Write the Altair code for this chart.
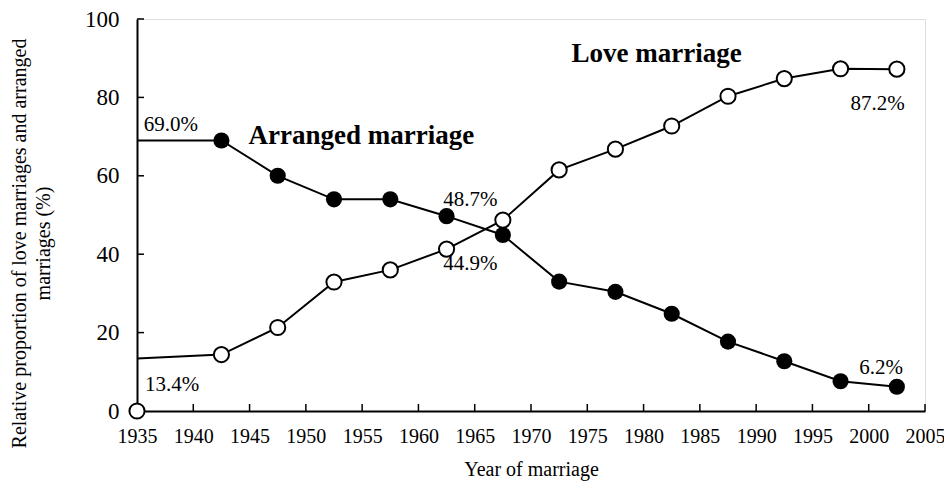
import altair as alt
import pandas as pd

years = [1935, 1942.5, 1947.5, 1952.5, 1957.5, 1962.5, 1967.5, 1972.5, 1977.5,
         1982.5, 1987.5, 1992.5, 1997.5, 2002.5]
arranged = [69.0, 69.0, 60.0, 54.0, 54.0, 49.7, 44.9, 33.0, 30.4, 24.8, 17.7, 12.7, 7.6, 6.2]
love = [13.4, 14.4, 21.3, 32.9, 36.0, 41.3, 48.7, 61.5, 66.8, 72.7, 80.3, 84.8, 87.3, 87.2]
stray_year = [1935]
stray_value = [0.0]

x_ticks = list(range(1935, 2006, 5))
y_ticks = [0, 20, 40, 60, 80, 100]

ann_text = ["69.0%", "Arranged marriage", "Love marriage", "48.7%", "44.9%", "13.4%", "87.2%", "6.2%"]
ann_x = [1935.6, 1944.9, 1973.6, 1962.2, 1962.2, 1935.7, 2000.8, 2001.1]
ann_y = [72.9, 70.2, 91.0, 53.7, 37.6, 6.6, 78.4, 10.9]
ann_bold = [False, True, True, False, False, False, False, False]
ann_align = ["left", "left", "left", "left", "left", "left", "center", "center"]

FONT = "Liberation Serif"

rows = []
for yr, a, l in zip(years, arranged, love):
    rows.append({"year": yr, "value": a, "series": "Arranged"})
    rows.append({"year": yr, "value": l, "series": "Love"})
df = pd.DataFrame(rows)
pts = df[df["year"] > 1935]
stray = pd.DataFrame({"year": stray_year, "value": stray_value})
ann = pd.DataFrame({"text": ann_text, "x": ann_x, "y": ann_y, "bold": ann_bold, "align": ann_align})

xs = alt.Scale(domain=[1935, 2005], nice=False, zero=False)
ys = alt.Scale(domain=[0, 100], nice=False)

X = alt.X("year:Q", scale=xs, axis=alt.Axis(
    values=x_ticks, ticks=False, grid=False, labelPadding=15, labelFontSize=20,
    labelOverlap=False, labelFlush=False, labelFont=FONT, labelColor="black",
    domainColor="black", domainWidth=2, title="Year of marriage", titleFont=FONT,
    titleFontSize=20, titleFontWeight="normal", titleColor="black", titlePadding=13,
    format="d"))
Y = alt.Y("value:Q", scale=ys, axis=alt.Axis(
    values=y_ticks, ticks=False, grid=False, labelPadding=18, labelFontSize=23,
    labelFlush=False, labelFont=FONT, labelColor="black", domainColor="black",
    domainWidth=2,
    title=["Relative proportion of love marriages and arranged", "marriages (%)"],
    titleFont=FONT, titleFontSize=20, titleFontWeight="normal", titleColor="black",
    titleX=-118, titleY=224, titleAngle=270, titleAlign="center", titleBaseline="middle",
    titleLineHeight=24))

base = alt.Chart(df)

lines = base.mark_line(color="black", strokeWidth=2).encode(
    x=X, y=Y, detail="series:N")

arr_pts = alt.Chart(pts[pts["series"] == "Arranged"]).mark_circle(
    size=260, color="black", opacity=1).encode(x="year:Q", y="value:Q")
love_pts = alt.Chart(pts[pts["series"] == "Love"]).mark_point(
    size=230, shape="circle", filled=True, fill="white", stroke="black",
    strokeWidth=2, opacity=1).encode(x="year:Q", y="value:Q")
stray_pt = alt.Chart(stray).mark_point(
    size=230, shape="circle", filled=True, fill="white", stroke="black",
    strokeWidth=2, opacity=1).encode(x="year:Q", y="value:Q")

xtick_df = pd.DataFrame({"t": x_ticks})
ytick_df = pd.DataFrame({"t": y_ticks})
xticks = alt.Chart(xtick_df).mark_rule(color="black", strokeWidth=1.5).encode(
    x="t:Q", y=alt.value(392), y2=alt.value(385))
yticks = alt.Chart(ytick_df).mark_rule(color="black", strokeWidth=1.5).encode(
    y=alt.Y("t:Q", scale=ys), x=alt.value(0), x2=alt.value(7))

layers = [lines, xticks, yticks]
for bold in [False, True]:
    for al in ["left", "center"]:
        sub = ann[(ann["bold"] == bold) & (ann["align"] == al)]
        if len(sub) == 0:
            continue
        layers.append(alt.Chart(sub).mark_text(
            font=FONT, fontSize=27 if bold else 21, fontWeight="bold" if bold else "normal",
            align=al, baseline="middle", color="black").encode(
            x="x:Q", y="y:Q", text="text:N"))
layers += [love_pts, arr_pts, stray_pt]

chart = alt.layer(*layers).properties(
    width=788, height=392,
    autosize=alt.AutoSizeParams(type="none"),
    padding={"left": 129, "top": 11, "right": 19, "bottom": 70},
).configure_view(stroke="#555", strokeWidth=1.5).configure(background="white")

chart.save("out.html", embed_options={"renderer": "svg", "actions": False})
